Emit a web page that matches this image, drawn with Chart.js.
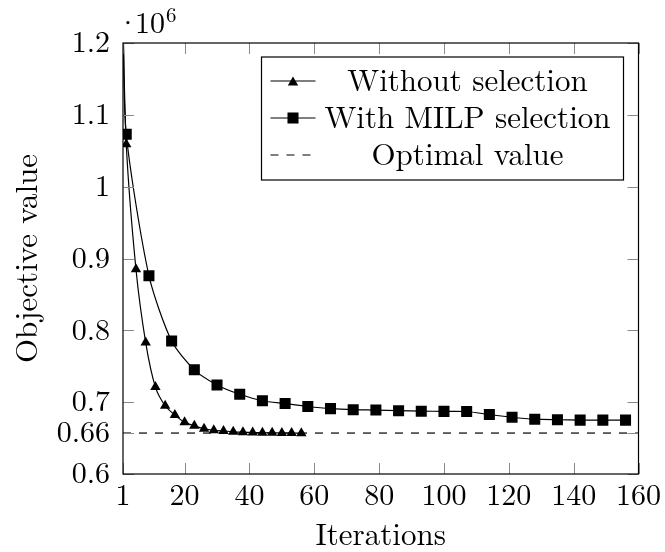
<!DOCTYPE html>
<html>
<head>
<meta charset="utf-8">
<script src="https://cdn.jsdelivr.net/npm/chart.js@4/dist/chart.umd.min.js"></script>
<style>
  html, body { margin: 0; padding: 0; background: #ffffff; }
  #wrap { width: 665px; height: 552px; }
</style>
</head>
<body>
<div id="wrap"><canvas id="c" width="665" height="552"></canvas></div>
<script>
// ---- data ----
const iterWithout = [1, 2, 5, 8, 11, 14, 17, 20, 23, 26, 29, 32, 35, 38, 41, 44, 47, 50, 53, 56];
const valuesWithout = [1230000, 1059000, 885000, 783000, 721000, 695000, 682000, 672000, 667000, 663000,
                       660800, 659800, 658800, 658200, 657800, 657500, 657300, 657100, 657000, 656900];

const iterWith = [1, 2, 9, 16, 23, 30, 37, 44, 51, 58, 65, 72, 79, 86, 93, 100, 107, 114, 121, 128, 135, 142, 149, 156];
const valuesWith = [1230000, 1073000, 876000, 785000, 745000, 724000, 711000, 702000, 698000, 694000,
                    691000, 689500, 689000, 688200, 687500, 687200, 687000, 682800, 679000, 676300,
                    675500, 675000, 675000, 675000];

const optimalValue = 657000;
const optimalRange = [1, 160];

const xTickValues = [1, 20, 40, 60, 80, 100, 120, 140, 160];
const yTickValues = [600000, optimalValue, 700000, 800000, 900000, 1000000, 1100000, 1200000];
const yTickLabels = ['0.6', '0.66', '0.7', '0.8', '0.9', '1', '1.1', '1.2'];

const seriesNames = ['Without selection', 'With MILP selection', 'Optimal value'];
const axisTitleX = 'Iterations';
const axisTitleY = 'Objective value';

// ---- styling ----
const FONT = "'Latin Modern Roman', 'Liberation Serif', 'Times New Roman', serif";
const FS = 30;
const FS_TITLE = 31;
const FS_LEGEND = 31;

function toPoints(xs, ys) { return xs.map((x, i) => ({ x: x, y: ys[i] })); }

function drawTri(ctx, x, y, r) {
  ctx.beginPath();
  for (let k = 0; k < 3; k++) {
    const a = k * 2 * Math.PI / 3;
    const px = x + Math.sin(a) * r, py = y - Math.cos(a) * r;
    if (k === 0) ctx.moveTo(px, py); else ctx.lineTo(px, py);
  }
  ctx.closePath();
  ctx.fill();
}
function drawSq(ctx, x, y, r) {
  const s = Math.SQRT1_2 * r;
  ctx.fillRect(x - s, y - s, 2 * s, 2 * s);
}

const framePlugin = {
  id: 'frameTicks',
  afterDatasetsDraw(chart) {
    const ctx = chart.ctx;
    const a = chart.chartArea;
    const xs = chart.scales.x, ys = chart.scales.y;
    ctx.save();
    // inward tick marks on all four sides
    ctx.strokeStyle = '#8a8a8a';
    ctx.lineWidth = 1;
    const TL = 11;
    ctx.beginPath();
    xTickValues.forEach(v => {
      const px = Math.round(xs.getPixelForValue(v)) + 0.5;
      ctx.moveTo(px, a.top); ctx.lineTo(px, a.top + TL);
      ctx.moveTo(px, a.bottom); ctx.lineTo(px, a.bottom - TL);
    });
    yTickValues.forEach(v => {
      const py = Math.round(ys.getPixelForValue(v)) + 0.5;
      ctx.moveTo(a.left, py); ctx.lineTo(a.left + TL, py);
      ctx.moveTo(a.right, py); ctx.lineTo(a.right - TL, py);
    });
    ctx.stroke();
    // frame
    ctx.strokeStyle = '#000000';
    ctx.lineWidth = 1.2;
    ctx.strokeRect(a.left, a.top, a.right - a.left, a.bottom - a.top);

    // exponent label  ·10^6
    ctx.fillStyle = '#000000';
    ctx.textBaseline = 'alphabetic';
    ctx.textAlign = 'center';
    ctx.font = FS + 'px ' + FONT;
    ctx.fillText('\u00b7', a.left + 5, a.top - 10);
    ctx.textAlign = 'left';
    ctx.fillText('10', a.left + 12, a.top - 10);
    const w = ctx.measureText('10').width;
    ctx.font = Math.round(FS * 0.7) + 'px ' + FONT;
    ctx.fillText('6', a.left + 12 + w + 1, a.top - 21);

    // legend
    const bw = 362, bh = 123;
    const bx = a.right - 15 - bw, by = a.top + 14;
    ctx.fillStyle = '#ffffff';
    ctx.fillRect(bx, by, bw, bh);
    ctx.strokeStyle = '#000000';
    ctx.lineWidth = 1.2;
    ctx.strokeRect(bx, by, bw, bh);
    const rows = [24, 61, 98];
    const sx0 = bx + 9, sx1 = bx + 54, sc = (sx0 + sx1) / 2;
    ctx.font = FS_LEGEND + 'px ' + FONT;
    ctx.textAlign = 'center';
    ctx.textBaseline = 'middle';
    rows.forEach((ry, i) => {
      const yy = by + ry;
      ctx.strokeStyle = '#000000';
      ctx.lineWidth = 1.2;
      ctx.setLineDash(i === 2 ? [8, 8] : []);
      ctx.beginPath();
      ctx.moveTo(sx0, yy); ctx.lineTo(i === 2 ? sx1 - 5 : sx1, yy);
      ctx.stroke();
      ctx.setLineDash([]);
      ctx.fillStyle = '#000000';
      if (i === 0) drawTri(ctx, sc, yy + 1.5, 6);
      if (i === 1) drawSq(ctx, sc, yy, 7.8);
      ctx.fillText(seriesNames[i], bx + 206, yy + 1);
    });
    ctx.restore();
  }
};

new Chart(document.getElementById('c'), {
  type: 'line',
  data: {
    datasets: [
      {
        label: seriesNames[0],
        data: toPoints(iterWithout, valuesWithout),
        borderColor: '#000000',
        backgroundColor: '#000000',
        borderWidth: 1.2,
        pointStyle: 'triangle',
        pointRadius: 6,
        pointBorderWidth: 0,
        pointBackgroundColor: '#000000',
        tension: 0.25,
        fill: false
      },
      {
        label: seriesNames[1],
        data: toPoints(iterWith, valuesWith),
        borderColor: '#000000',
        backgroundColor: '#000000',
        borderWidth: 1.2,
        pointStyle: 'rect',
        pointRadius: 7.8,
        pointBorderWidth: 0,
        pointBackgroundColor: '#000000',
        tension: 0.25,
        fill: false
      },
      {
        label: seriesNames[2],
        data: toPoints(optimalRange, [optimalValue, optimalValue]),
        borderColor: '#000000',
        borderWidth: 1.2,
        borderDash: [8, 8],
        pointRadius: 0,
        fill: false
      }
    ]
  },
  options: {
    responsive: false,
    animation: false,
    devicePixelRatio: 1,
    layout: { padding: { top: 43, right: 25, left: 0, bottom: 0 } },
    plugins: { legend: { display: false }, tooltip: { enabled: false }, title: { display: false } },
    scales: {
      x: {
        type: 'linear',
        min: 1, max: 160,
        afterBuildTicks: s => { s.ticks = xTickValues.map(v => ({ value: v })); },
        afterFit: s => { s.height = 78; },
        grid: { display: false, drawTicks: false },
        border: { display: false },
        ticks: {
          autoSkip: false, maxRotation: 0, padding: 4,
          color: '#000000',
          font: { family: FONT, size: FS },
          callback: v => String(v)
        },
        title: {
          display: true, text: axisTitleX, color: '#000000',
          font: { family: FONT, size: FS_TITLE }, padding: { top: 0, bottom: -2 }
        }
      },
      y: {
        type: 'linear',
        min: 600000, max: 1200000,
        afterBuildTicks: s => { s.ticks = yTickValues.map(v => ({ value: v })); },
        afterFit: s => { s.width = 123; },
        grid: { display: false, drawTicks: false },
        border: { display: false },
        ticks: {
          autoSkip: false, padding: 13,
          color: '#000000',
          font: { family: FONT, size: FS },
          callback: v => { const i = yTickValues.indexOf(v); return i >= 0 ? yTickLabels[i] : ''; }
        },
        title: {
          display: true, text: axisTitleY, color: '#000000',
          font: { family: FONT, size: FS_TITLE }, padding: { top: 9, bottom: 0 }
        }
      }
    }
  },
  plugins: [framePlugin]
});
</script>
</body>
</html>
